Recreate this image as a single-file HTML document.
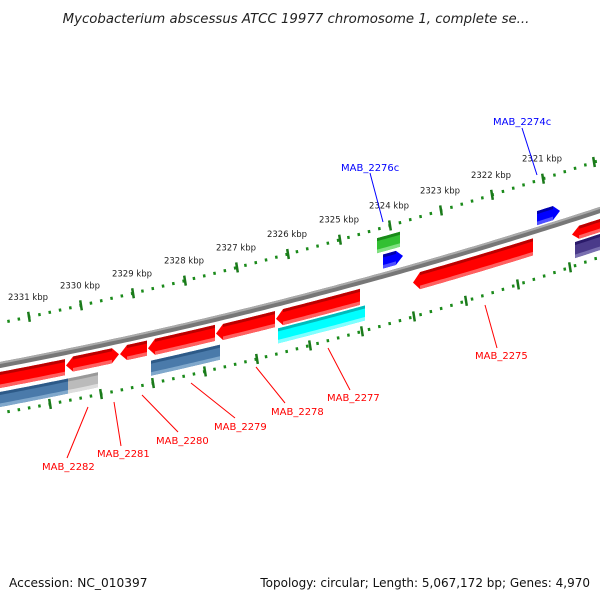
<!DOCTYPE html>
<html><head><meta charset="utf-8"><style>
body{margin:0;background:#fff;width:600px;height:600px;overflow:hidden}
svg{display:block}
text{font-family:"DejaVu Sans","Liberation Sans",sans-serif}
</style></head><body>
<svg id="s" width="600" height="600" xmlns="http://www.w3.org/2000/svg">
<text x="296" y="23" font-size="13.3" font-style="italic" text-anchor="middle" fill="#222">Mycobacterium abscessus ATCC 19977 chromosome 1, complete se...</text>
<text x="9" y="587" font-size="12.2" fill="#111">Accession: NC_010397</text>
<text x="590" y="587" font-size="12" fill="#111" text-anchor="end">Topology: circular; Length: 5,067,172 bp; Genes: 4,970</text>
</svg>
<script>
var s=document.getElementById('s'),NS='http://www.w3.org/2000/svg';
function q(a,b,c,x){var t=x/600;return (1-t)*(1-t)*a+2*t*(1-t)*b+t*t*c;}
function G(x){return q(365,308,210,x);}
function O(x){return q(323,260,160,x);}
function I(x){return q(413,361,257,x);}
function el(n,a){var e=document.createElementNS(NS,n);for(var k in a)e.setAttribute(k,a[k]);s.appendChild(e);return e;}
function pathOf(f,dy){var d='';for(var x=-5;x<=605;x+=5)d+=(x==-5?'M':'L')+x+','+(f(x)+dy).toFixed(1);return d;}
el('path',{d:pathOf(G,0),stroke:'#777','stroke-width':6,fill:'none'});
el('path',{d:pathOf(G,-2),stroke:'#aaa','stroke-width':2,fill:'none'});
function track(f,majors){
 for(var x=-2;x<605;x+=10.3){var y=f(x);el('line',{x1:x,y1:y-1.5,x2:x+0.5,y2:y+1.5,stroke:'#1a8a1a','stroke-width':2.5});}
 majors.forEach(function(x){var y=f(x);el('line',{x1:x-0.8,y1:y-5,x2:x+0.8,y2:y+5,stroke:'#1a7a1a','stroke-width':2.5});});
}
var om=[29,81,133,185,237,288,340,390,441,492,543,594];
track(O,om);
track(I,[50,101,153,205,257,310,362,414,466,518,570]);
var labs=['2331','2330','2329','2328','2327','2326','2325','2324','2323','2322','2321'];
labs.forEach(function(l,i){var x=om[i];var t=el('text',{x:x-1,y:O(x)-17,'font-size':'8.5','text-anchor':'middle',fill:'#222'});t.textContent=l+' kbp';});
function gene(x1,x2,f,d1,d2,col,dark,light,dir){
 var a=7,h=(d1+d2)/2,sx=x1,ex=x2;
 if(dir<0)sx=x1+a; if(dir>0)ex=x2-a;
 var top=[],bot=[];
 for(var x=sx;x<ex;x+=3){top.push([x,f(x)+d1]);bot.unshift([x,f(x)+d2]);}
 top.push([ex,f(ex)+d1]);bot.unshift([ex,f(ex)+d2]);
 var p=[];
 if(dir<0)p.push([x1,f(x1)+h]);
 p=p.concat(top); if(dir>0)p.push([x2,f(x2)+h]); p=p.concat(bot);
 el('polygon',{points:p.map(function(v){return v[0].toFixed(1)+','+v[1].toFixed(1)}).join(' '),fill:col});
 var tb=[],bb=[];
 for(var x=sx;x<ex;x+=3){tb.push(x+','+(f(x)+d1));} tb.push(ex+','+(f(ex)+d1));
 tb.push(ex+','+(f(ex)+d1+3)); for(var x=ex;x>sx;x-=3){tb.push(x+','+(f(x)+d1+3));} tb.push(sx+','+(f(sx)+d1+3));
 el('polygon',{points:tb.join(' '),fill:dark});
 for(var x=sx;x<ex;x+=3){bb.push(x+','+(f(x)+d2-3.5));} bb.push(ex+','+(f(ex)+d2-3.5));
 bb.push(ex+','+(f(ex)+d2)); for(var x=ex;x>sx;x-=3){bb.push(x+','+(f(x)+d2));} bb.push(sx+','+(f(sx)+d2));
 el('polygon',{points:bb.join(' '),fill:light});
}
var R=['#f00','#b00','#ff6060'],SB=['#4a7aaa','#2d5a88','#80a8cc'],GR=['#bbb','#999','#ddd'],CY=['#0ff','#0bb','#80ffff'],BL=['#00f','#00a','#5050ff'],GN=['#33c033','#1a8a1a','#80e080'],PU=['#4a3a8a','#2a1a6a','#7a70b0'];
function g(x1,x2,d1,d2,c,dir){gene(x1,x2,G,d1,d2,c[0],c[1],c[2],dir);}
g(-5,65,7,23,R,0);g(66,93,6,21,R,-1);g(93,119,6,21,R,1);g(120,147,6,21,R,-1);g(148,215,6,22,R,-1);g(216,275,7,23,R,-1);g(276,360,7,23,R,-1);
g(413,533,7,24,R,-1);g(572,605,9,22,R,-1);
g(-5,68,27,42,SB,0);g(68,98,27,42,GR,0);g(151,220,27,42,SB,0);g(278,365,25,40,CY,0);g(575,605,24,40,PU,0);
g(383,403,-21,-7,BL,1);g(377,400,-39,-24,GN,0);g(537,560,-19,-5,BL,1);
function lab(t,x,y,lx1,ly1,lx2,ly2,c){el('line',{x1:lx1,y1:ly1,x2:lx2,y2:ly2,stroke:c,'stroke-width':1});var e=el('text',{x:x,y:y,'font-size':'10',fill:c});e.textContent=t;}
lab('MAB_2275',475,359,485,305,497,348,'#f00');
lab('MAB_2277',327,401,328,348,350,390,'#f00');
lab('MAB_2278',271,415,256,367,285,403,'#f00');
lab('MAB_2279',214,430,191,383,235,418,'#f00');
lab('MAB_2280',156,444,142,395,178,432,'#f00');
lab('MAB_2281',97,457,114,402,121,446,'#f00');
lab('MAB_2282',42,470,88,407,67,458,'#f00');
lab('MAB_2276c',341,171,370,173,383,222,'#00f');
lab('MAB_2274c',493,125,522,128,537,175,'#00f');
</script>
</body></html>
